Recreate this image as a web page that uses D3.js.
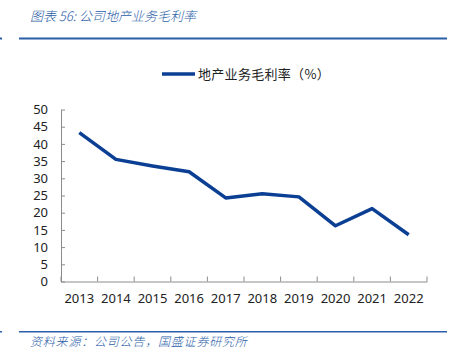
<!DOCTYPE html>
<html>
<head>
<meta charset="utf-8">
<script src="https://cdn.jsdelivr.net/npm/d3@7"></script>
<style>
  body { margin: 0; background: #fff; }
  svg text { font-family: "Noto Sans", "Noto Sans CJK SC", sans-serif; }
  .cjk { font-family: "Noto Sans CJK SC", sans-serif; }
</style>
</head>
<body>
<div id="chart"></div>
<script>
// data
const years = ['2013', '2014', '2015', '2016', '2017', '2018', '2019', '2020', '2021', '2022'];
const grossMargin = [43.3, 35.5, 33.6, 31.9, 24.3, 25.5, 24.6, 16.2, 21.2, 13.6];
const yTicks = [0, 5, 10, 15, 20, 25, 30, 35, 40, 45, 50];
const seriesName = '地产业务毛利率（%）';
const titleText = '图表 56:  公司地产业务毛利率';
const sourceText = '资料来源：公司公告，国盛证券研究所';

const W = 455, H = 361;
const plot = {left: 61, right: 427, top: 109.5, bottom: 281.5};
const lineBlue = '#0b3f94';
const headBlue = '#2b5ea8';

const svg = d3.select('#chart').append('svg')
  .attr('width', W)
  .attr('height', H);

// header and footer
svg.append('text')
  .attr('class', 'cjk')
  .attr('x', 30).attr('y', 21)
  .attr('font-size', 13)
  .attr('font-style', 'italic')
  .attr('font-weight', 300)
  .attr('fill', headBlue)
  .text(titleText);
svg.append('rect').attr('x', 19).attr('y', 37.5).attr('width', 428).attr('height', 2).attr('fill', headBlue);
svg.append('rect').attr('x', 0).attr('y', 37.5).attr('width', 2).attr('height', 2).attr('fill', headBlue);
svg.append('rect').attr('x', 19).attr('y', 331).attr('width', 428).attr('height', 1.5).attr('fill', headBlue);
svg.append('rect').attr('x', 0).attr('y', 331).attr('width', 2).attr('height', 1.5).attr('fill', headBlue);
svg.append('text')
  .attr('class', 'cjk')
  .attr('x', 30).attr('y', 346)
  .attr('font-size', 12)
  .attr('letter-spacing', 0.8)
  .attr('font-style', 'italic')
  .attr('font-weight', 300)
  .attr('fill', headBlue)
  .text(sourceText);

// SCALES
const xScale = d3.scaleBand().domain(years).range([plot.left, plot.right]);
const yScale = d3.scaleLinear().domain([0, 50]).range([plot.bottom, plot.top]);

// AXES
const yAxis = d3.axisLeft(yScale).tickValues(yTicks).tickSizeInner(-4).tickSizeOuter(0).tickPadding(13);
const xAxis = d3.axisBottom(xScale).tickSize(0).tickPadding(12);

const gy = svg.append('g')
  .attr('transform', 'translate(' + plot.left + ',0)')
  .call(yAxis);
gy.selectAll('text').attr('font-size', 13).attr('fill', '#222');
gy.selectAll('line, path').attr('stroke', '#8c8c8c');

const gx = svg.append('g')
  .attr('transform', 'translate(0,' + plot.bottom + ')')
  .call(xAxis);
gx.select('path').attr('stroke', '#8c8c8c');
gx.selectAll('text').attr('font-size', 13).attr('fill', '#222');

// x ticks sit on band boundaries, pointing up
const boundaries = years.map(d => xScale(d)).concat([plot.right]);
svg.append('g').selectAll('line')
  .data(boundaries)
  .enter().append('line')
  .attr('x1', d => d).attr('x2', d => d)
  .attr('y1', plot.bottom).attr('y2', plot.bottom - 5)
  .attr('stroke', '#8c8c8c');

// line
const line = d3.line()
  .x((d, i) => xScale(years[i]) + xScale.bandwidth() / 2)
  .y(d => yScale(d));

svg.append('path')
  .datum(grossMargin)
  .attr('d', line)
  .attr('fill', 'none')
  .attr('stroke', lineBlue)
  .attr('stroke-width', 3.5)
  .attr('stroke-linejoin', 'round');

// legend
const legend = svg.append('g').attr('transform', 'translate(162,74)');
legend.append('line')
  .attr('x1', 0).attr('x2', 33)
  .attr('stroke', lineBlue).attr('stroke-width', 3.5);
legend.append('text')
  .attr('class', 'cjk')
  .attr('x', 36).attr('y', 0)
  .attr('dy', '0.35em')
  .attr('font-size', 13)
  .attr('letter-spacing', 0.3)
  .attr('fill', '#222')
  .text(seriesName);
</script>
</body>
</html>
